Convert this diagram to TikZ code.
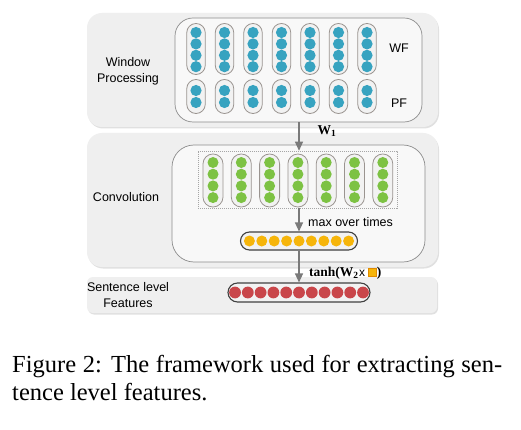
\documentclass[tikz,border=0pt]{standalone}
\usepackage{fontspec}
\setmainfont{Liberation Serif}
\setsansfont{Liberation Sans}
\usetikzlibrary{shadows,arrows.meta}
\definecolor{panelbg}{HTML}{EFEFEF}
\definecolor{innerbg}{HTML}{F8F8F8}
\definecolor{innerln}{HTML}{8C8C8C}
\definecolor{capfill}{HTML}{F2F2F2}
\definecolor{capln}{HTML}{9A9490}
\definecolor{dotblue}{HTML}{37A3C0}
\definecolor{dotgreen}{HTML}{7DC243}
\definecolor{dotyellow}{HTML}{F6B50A}
\definecolor{dotred}{HTML}{C9464A}
\definecolor{arrgray}{HTML}{7A7A7A}
\definecolor{sqborder}{HTML}{E08A00}
\begin{document}
\begin{tikzpicture}[x=1pt,y=-1pt,
  panel/.style={fill=panelbg, inner sep=0pt, rounded corners=15pt,
    drop shadow={shadow xshift=1pt, shadow yshift=-1.5pt, opacity=0.12, fill=black}},
  innerbox/.style={draw=innerln, fill=innerbg, line width=0.7pt, inner sep=0pt, rounded corners=18pt},
  vcap/.style={draw=capln, fill=capfill, line width=0.8pt, inner sep=0pt, minimum width=18.5pt, rounded corners=9.2pt},
  gcap/.style={draw=capln, fill=capfill, line width=0.8pt, inner sep=0pt, minimum width=20pt, minimum height=53pt, rounded corners=9.9pt},
  hcap/.style={draw=black!75, fill=capfill, line width=1.1pt, inner sep=0pt, rounded corners=9pt},
  lbl/.style={font=\sffamily\fontsize{12.5}{16}\selectfont, align=center, inner sep=0pt},
  mathlbl/.style={font=\bfseries\fontsize{13.5}{16}\selectfont, inner sep=0pt},
  arr/.style={draw=arrgray, line width=1.2pt, -{Triangle[length=9pt,width=8pt]}, arrgray}
]
\useasboundingbox (0,0) rectangle (521,430);
\fill[white] (0,0) rectangle (521,430);

% panels
\node[panel, minimum width=351pt, minimum height=114pt] (p1) at (262.5,70) {};
\node[panel, minimum width=351pt, minimum height=134pt] (p2) at (262.5,200) {};
\node[panel, rounded corners=6pt, minimum width=350pt, minimum height=36pt] (p3) at (262,295) {};

% window processing
\node[innerbox, minimum width=247pt, minimum height=104pt] (winbox) at (298.5,70) {};
\node[lbl] (wplabel) at (128,71) {Window\\Processing};
\foreach \i in {0,...,6} {
  \pgfmathsetmacro{\cx}{196+28.5*\i}
  \node[vcap, minimum height=51pt] (wf\i) at (\cx,49) {};
  \foreach \k in {0,...,3} {
    \fill[dotblue] (\cx,32.5+11.4*\k) circle (5.6pt);
  }
  \node[vcap, minimum height=34pt] (pf\i) at (\cx,96.5) {};
  \foreach \k in {0,1} {
    \fill[dotblue] (\cx,90.5+12*\k) circle (5.6pt);
  }
}
\node[lbl, anchor=center] (wf) at (399,48) {WF};
\node[lbl, anchor=center] (pf) at (399,103) {PF};

% convolution
\node[innerbox, rounded corners=22pt, minimum width=253pt, minimum height=117pt] (convin) at (298.5,203.5) {};
\node[lbl] (convlabel) at (126,197) {Convolution};
\node[draw=black!35, dash pattern=on 1.2pt off 0.8pt, line width=0.5pt, inner sep=0pt,
      minimum width=199pt, minimum height=57pt] (convbox) at (297.5,179.5) {};
\foreach \i in {0,...,6} {
  \pgfmathsetmacro{\cx}{213+28.3*\i}
  \node[gcap] (gc\i) at (\cx,180.5) {};
  \foreach \k in {0,...,3} {
    \fill[dotgreen] (\cx,162.5+11.7*\k) circle (5.5pt);
  }
}

% pooling
\node[hcap, minimum width=117pt, minimum height=18pt] (pool) at (299,241) {};
\foreach \k in {0,...,8} {
  \fill[dotyellow] (299+12.4*\k-49.6,241) circle (5.5pt);
}
\node[lbl, anchor=west] (maxlbl) at (308,222) {max over times};

% sentence level
\node[lbl] (sllabel) at (128,295.5) {Sentence level\\Features};
\node[hcap, rounded corners=9.5pt, minimum width=142pt, minimum height=19pt] (sent) at (299,292.5) {};
\foreach \k in {0,...,10} {
  \fill[dotred] (299+12.8*\k-64,292.5) circle (5.9pt);
}

% arrows
\draw[arr] (winbox.south -| 299,0) -- (convbox.north -| 299,0);
\draw[arr] (convbox.south -| pool.north) -- (pool.north);
\draw[arr] (pool.south) -- (sent.north);

\node[mathlbl] (w1) at (327,131) {W\textsubscript{1}};
\node[mathlbl, anchor=west] (tanh) at (309,273) {tanh(W\textsubscript{2}\hspace{0.5pt}{\sffamily\mdseries\fontsize{12}{14}\selectfont x}\hspace{3pt}\raisebox{0.3pt}{\tikz[baseline=0pt]\draw[sqborder,fill=dotyellow,line width=0.6pt] (0,0) rectangle (8pt,8pt);})};

% caption
\node[anchor=base west, inner sep=0pt, font=\fontsize{24.5}{28}\selectfont] (cap1) at (12,372)
  {\makebox[490pt][s]{Figure 2: The framework used for extracting sen-}};
\node[anchor=base west, inner sep=0pt, font=\fontsize{24.5}{28}\selectfont] (cap2) at (12,400)
  {tence level features.};
\end{tikzpicture}
\end{document}
